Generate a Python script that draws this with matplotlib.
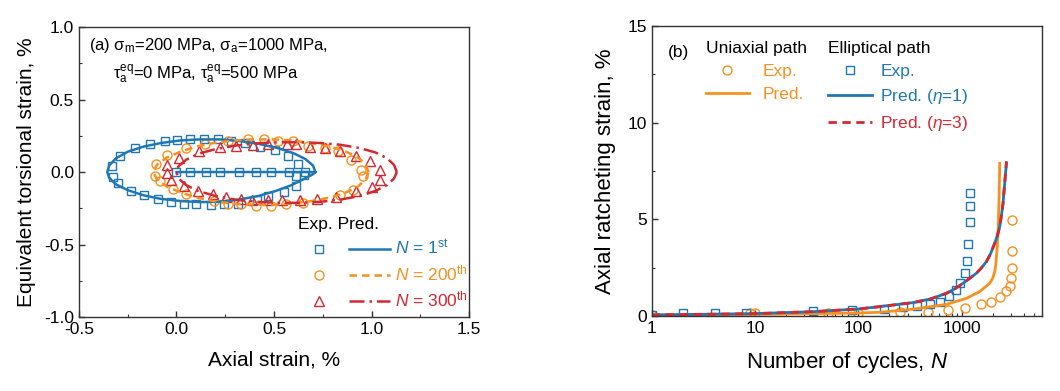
import matplotlib
matplotlib.use("Agg")
import matplotlib.pyplot as plt
from matplotlib.lines import Line2D
from matplotlib.legend_handler import HandlerTuple
import numpy as np

plt.rcParams['font.family'] = ['Liberation Sans', 'DejaVu Sans']
plt.rcParams['mathtext.fontset'] = 'custom'
plt.rcParams['mathtext.rm'] = 'Liberation Sans'
plt.rcParams['mathtext.it'] = 'Liberation Sans:italic'
plt.rcParams['mathtext.bf'] = 'Liberation Sans:bold'

BLUE = '#1f77b4'
ORANGE = '#f7901e'
RED = '#d62830'

# ---------------- (a) data ----------------
exp1_x = [-0.333, -0.328, -0.302, -0.290, -0.235, -0.213, -0.167, -0.137, -0.097, -0.060,
          -0.029, 0.005, 0.039, 0.068, 0.099, 0.140, 0.179, 0.213, 0.244, 0.282,
          0.316, 0.350, 0.411, 0.427, 0.468, 0.503, 0.549, 0.573, 0.614, 0.614,
          0.623, 0.654,
          0.000, 0.068, 0.150, 0.222, 0.319, 0.406, 0.486, 0.577, 0.657]
exp1_y = [0.039, -0.037, -0.076, 0.108, -0.128, 0.165, -0.160, 0.195, -0.185, 0.213,
          -0.204, 0.224, -0.217, 0.231, -0.222, 0.231, -0.229, 0.227, -0.220, 0.215,
          -0.222, 0.200, -0.191, 0.176, -0.168, 0.149, -0.135, 0.112, -0.094, -0.030,
          0.057, -0.018,
          0.0, 0.0, 0.0, 0.0, 0.0, 0.0, 0.0, 0.0, 0.0]

exp200_x = [-0.106, -0.111, -0.085, -0.048, -0.020, 0.048, 0.048, 0.145, 0.193, 0.265,
            0.265, 0.333, 0.367, 0.410, 0.447, 0.486, 0.521, 0.563, 0.597, 0.648,
            0.674, 0.759, 0.828, 0.836, 0.896, 0.904, 0.947, 0.956]
exp200_y = [0.057, -0.030, -0.064, 0.119, -0.117, 0.169, -0.151, 0.195, -0.201, 0.211,
            -0.217, -0.220, 0.227, -0.231, 0.227, -0.231, 0.217, -0.217, 0.211, -0.213,
            0.181, 0.165, 0.142, -0.156, 0.085, -0.121, 0.016, -0.030]

exp300_x = [-0.048, -0.051, -0.026, 0.014, 0.038, 0.116, 0.111, 0.188, 0.224, 0.256,
            0.307, 0.333, 0.392, 0.389, 0.469, 0.469, 0.543, 0.567, 0.611, 0.631,
            0.686, 0.722, 0.763, 0.819, 0.836, 0.918, 0.922, 0.990, 1.003, 1.044, 1.044]
exp300_y = [0.050, -0.007, -0.053, 0.096, -0.098, 0.146, -0.133, -0.151, 0.176, -0.172,
            0.181, -0.185, 0.188, -0.190, 0.195, -0.190, -0.190, 0.195, 0.195, -0.190,
            0.176, -0.185, 0.165, -0.172, 0.142, 0.112, -0.133, 0.073, -0.103, 0.016, -0.053]

pred1_x = [0.0, 0.712, 0.70, 0.66, 0.60, 0.52, 0.42, 0.32, 0.22, 0.12, 0.02, -0.08, -0.17,
           -0.25, -0.31, -0.345, -0.355, -0.345, -0.31, -0.25, -0.17, -0.08, 0.02, 0.12,
           0.22, 0.32, 0.42, 0.51, 0.59, 0.65, 0.70, 0.712]
pred1_y = [0.0, 0.0, 0.045, 0.09, 0.13, 0.165, 0.195, 0.215, 0.225, 0.225, 0.218, 0.20, 0.175,
           0.14, 0.095, 0.045, 0.0, -0.04, -0.085, -0.125, -0.16, -0.185, -0.20, -0.207,
           -0.205, -0.19, -0.165, -0.13, -0.09, -0.05, -0.015, 0.0]

pred200_x = [0.985, 0.97, 0.93, 0.87, 0.79, 0.69, 0.59, 0.49, 0.39, 0.29, 0.19, 0.10, 0.02,
             -0.05, -0.10, -0.12, -0.10, -0.05, 0.02, 0.10, 0.19, 0.29, 0.39, 0.49, 0.59,
             0.69, 0.79, 0.87, 0.93, 0.97, 0.985]
pred200_y = [0.0, 0.05, 0.10, 0.14, 0.175, 0.20, 0.218, 0.225, 0.225, 0.218, 0.20, 0.175, 0.14,
             0.10, 0.05, 0.0, -0.05, -0.10, -0.14, -0.175, -0.20, -0.218, -0.225, -0.225,
             -0.218, -0.20, -0.175, -0.14, -0.10, -0.05, 0.0]

pred300_x = [1.13, 1.115, 1.08, 1.02, 0.94, 0.84, 0.74, 0.63, 0.52, 0.41, 0.30, 0.20, 0.11,
             0.05, 0.01, 0.0, 0.01, 0.05, 0.11, 0.20, 0.30, 0.41, 0.52, 0.63, 0.74, 0.84,
             0.94, 1.02, 1.08, 1.115, 1.13]
pred300_y = [0.0, 0.05, 0.095, 0.135, 0.165, 0.188, 0.20, 0.205, 0.205, 0.198, 0.182, 0.158,
             0.125, 0.085, 0.04, 0.0, -0.045, -0.09, -0.13, -0.165, -0.19, -0.205, -0.212,
             -0.212, -0.205, -0.19, -0.165, -0.13, -0.09, -0.045, 0.0]

# ---------------- (b) data ----------------
ell_exp_N = [1, 2.0, 4.07, 8.1, 36.5, 86, 176, 271, 370, 491, 614, 750, 877, 973, 1071,
             1128, 1153, 1197, 1197, 1197]
ell_exp_e = [0.05, 0.14, 0.14, 0.17, 0.27, 0.31, 0.38, 0.45, 0.53, 0.62, 0.74, 1.03, 1.35,
             1.69, 2.21, 2.86, 3.71, 4.88, 5.69, 6.38]

uni_exp_N = [1, 8.9, 9.9, 51, 99, 251, 473, 738, 1071, 1531, 1941, 2375, 2716, 2923, 3035,
             3104, 3104, 3104]
uni_exp_e = [0.05, 0.17, 0.17, 0.14, 0.14, 0.19, 0.19, 0.31, 0.43, 0.61, 0.74, 1.00, 1.31,
             1.55, 1.95, 2.47, 3.38, 4.97]

uni_pred_N = [1, 10, 100, 161, 339, 713, 1112, 1496, 1872, 2000, 2091, 2140, 2172, 2215,
              2250, 2302, 2339]
uni_pred_e = [0.05, 0.08, 0.15, 0.19, 0.35, 0.60, 0.91, 1.26, 1.69, 1.95, 2.29, 2.65, 3.07,
              3.6, 4.28, 6.0, 7.9]

ell1_pred_N = [1, 10, 36.5, 100, 161, 339, 500, 713, 870, 1033, 1200, 1390, 1550, 1738,
               1900, 2091, 2230, 2339, 2430, 2518, 2612, 2716]
ell1_pred_e = [0.05, 0.12, 0.22, 0.36, 0.48, 0.69, 0.88, 1.17, 1.42, 1.69, 1.95, 2.21, 2.48,
               2.81, 3.2, 3.76, 4.2, 4.62, 5.2, 5.83, 6.86, 7.9]

ell3_pred_N = [1, 10, 36.5, 100, 161, 339, 500, 713, 870, 1033, 1200, 1390, 1550, 1738,
               1900, 2091, 2230, 2339, 2430, 2518, 2612, 2716]
ell3_pred_e = [0.05, 0.12, 0.22, 0.36, 0.48, 0.69, 0.88, 1.17, 1.42, 1.69, 1.95, 2.21, 2.48,
               2.81, 3.2, 3.76, 4.2, 4.62, 5.2, 5.83, 6.86, 8.0]

fig = plt.figure(figsize=(10.6, 3.91), dpi=100)
axA = fig.add_axes([0.0745, 0.189, 0.368, 0.742])
axB = fig.add_axes([0.615, 0.192, 0.368, 0.7415])

for ax in (axA, axB):
    for s in ax.spines.values():
        s.set_color('#333333')
        s.set_linewidth(1.0)
    ax.tick_params(which='both', direction='in', top=False, right=False,
                   labelsize=12.5, color='#333333')
    ax.tick_params(which='major', length=4.5, width=1.0)
    ax.tick_params(which='minor', length=2.5, width=0.8)

# ---- (a)
ms_kw = dict(linestyle='none', markerfacecolor='none', markeredgewidth=1.0)
axA.plot(exp1_x, exp1_y, marker='s', markersize=5.5, color=BLUE, **ms_kw)
axA.plot(exp200_x, exp200_y, marker='o', markersize=6.5, color=ORANGE, **ms_kw)
axA.plot(exp300_x, exp300_y, marker='^', markersize=7, color=RED, **ms_kw)
axA.plot(pred1_x, pred1_y, color=BLUE, lw=1.8)
axA.plot(pred200_x, pred200_y, color=ORANGE, lw=1.8, dashes=(3, 2))
axA.plot(pred300_x, pred300_y, color=RED, lw=1.8, dashes=(6, 2, 1, 2))

axA.set_xlim(-0.5, 1.5)
axA.set_ylim(-1.0, 1.0)
axA.set_xticks([-0.5, 0.0, 0.5, 1.0, 1.5])
axA.set_xticks([-0.25, 0.25, 0.75, 1.25], minor=True)
axA.set_yticks([-1.0, -0.5, 0.0, 0.5, 1.0])
axA.set_yticks([-0.75, -0.25, 0.25, 0.75], minor=True)
axA.set_xticklabels(['-0.5', '0.0', '0.5', '1.0', '1.5'])
axA.set_yticklabels(['-1.0', '-0.5', '0.0', '0.5', '1.0'])
axA.set_xlabel('Axial strain, %', fontsize=15, labelpad=10)
axA.set_ylabel('Equivalent torsional strain, %', fontsize=15, labelpad=6)

axA.text(0.025, 0.935, r'(a) σ$_\mathrm{m}$=200 MPa, σ$_\mathrm{a}$=1000 MPa,',
         transform=axA.transAxes, fontsize=12, va='center', ha='left')
axA.text(0.088, 0.835, r'τ$_\mathrm{a}^\mathrm{eq}$=0 MPa, τ$_\mathrm{a}^\mathrm{eq}$=500 MPa',
         transform=axA.transAxes, fontsize=12, va='center', ha='left')

hA = [
    (Line2D([], [], marker='s', markersize=5.5, color=BLUE, **ms_kw),
     Line2D([], [], color=BLUE, lw=1.8)),
    (Line2D([], [], marker='o', markersize=6.5, color=ORANGE, **ms_kw),
     Line2D([], [], color=ORANGE, lw=1.8, dashes=(3, 2))),
    (Line2D([], [], marker='^', markersize=7, color=RED, **ms_kw),
     Line2D([], [], color=RED, lw=1.8, dashes=(6, 2, 1, 2))),
]
lA = [r'$N$ = 1$^\mathrm{st}$', r'$N$ = 200$^\mathrm{th}$', r'$N$ = 300$^\mathrm{th}$']
legA = axA.legend(hA, lA, handler_map={tuple: HandlerTuple(ndivide=2, pad=0.6)},
                  title='Exp. Pred.', title_fontsize=12.5, fontsize=12.5,
                  loc='upper left', bbox_to_anchor=(0.562, 0.345), frameon=False,
                  borderpad=0, borderaxespad=0, handlelength=5.3, handletextpad=0.3,
                  labelspacing=0.35, alignment='left')
for t, c in zip(legA.get_texts(), [BLUE, ORANGE, RED]):
    t.set_color(c)

# ---- (b)
axB.plot(uni_exp_N, uni_exp_e, marker='o', markersize=6.5, color=ORANGE, **ms_kw)
axB.plot(ell_exp_N, ell_exp_e, marker='s', markersize=5.5, color=BLUE, **ms_kw)
axB.plot(uni_pred_N, uni_pred_e, color=ORANGE, lw=2.0)
axB.plot(ell1_pred_N, ell1_pred_e, color=BLUE, lw=2.0)
axB.plot(ell3_pred_N, ell3_pred_e, color=RED, lw=2.0, dashes=(3, 2))

axB.set_xscale('log')
axB.set_xlim(1, 6000)
axB.set_ylim(0, 15)
axB.set_xticks([1, 10, 100, 1000])
axB.set_xticklabels(['1', '10', '100', '1000'])
axB.set_yticks([0, 5, 10, 15])
axB.set_yticks([2.5, 7.5, 12.5], minor=True)
axB.set_xlabel('Number of cycles, $N$', fontsize=16, labelpad=10)
axB.set_ylabel('Axial ratcheting strain, %', fontsize=16, labelpad=8)

axB.text(0.04, 0.91, '(b)', transform=axB.transAxes, fontsize=12.5, va='center', ha='left')

hB1 = [Line2D([], [], marker='o', markersize=6.5, color=ORANGE, **ms_kw),
       Line2D([], [], color=ORANGE, lw=2.0)]
legB1 = axB.legend(hB1, ['Exp.', 'Pred.'], title='Uniaxial path', title_fontsize=12.5,
                   fontsize=12.5, loc='upper left', bbox_to_anchor=(0.138, 0.948),
                   frameon=False, borderpad=0, borderaxespad=0, handlelength=2.5,
                   handletextpad=0.8, labelspacing=0.45, alignment='left')
for t in legB1.get_texts():
    t.set_color(ORANGE)
axB.add_artist(legB1)

hB2 = [Line2D([], [], marker='s', markersize=5.5, color=BLUE, **ms_kw),
       Line2D([], [], color=BLUE, lw=2.0),
       Line2D([], [], color=RED, lw=2.0, dashes=(3, 2))]
legB2 = axB.legend(hB2, ['Exp.', r'Pred. ($\eta$=1)', r'Pred. ($\eta$=3)'],
                   title='Elliptical path', title_fontsize=12.5,
                   fontsize=12.5, loc='upper left', bbox_to_anchor=(0.452, 0.948),
                   frameon=False, borderpad=0, borderaxespad=0, handlelength=2.5,
                   handletextpad=0.5, labelspacing=0.45, alignment='left')
for t, c in zip(legB2.get_texts(), [BLUE, BLUE, RED]):
    t.set_color(c)

fig.savefig('out.png', dpi=100)
